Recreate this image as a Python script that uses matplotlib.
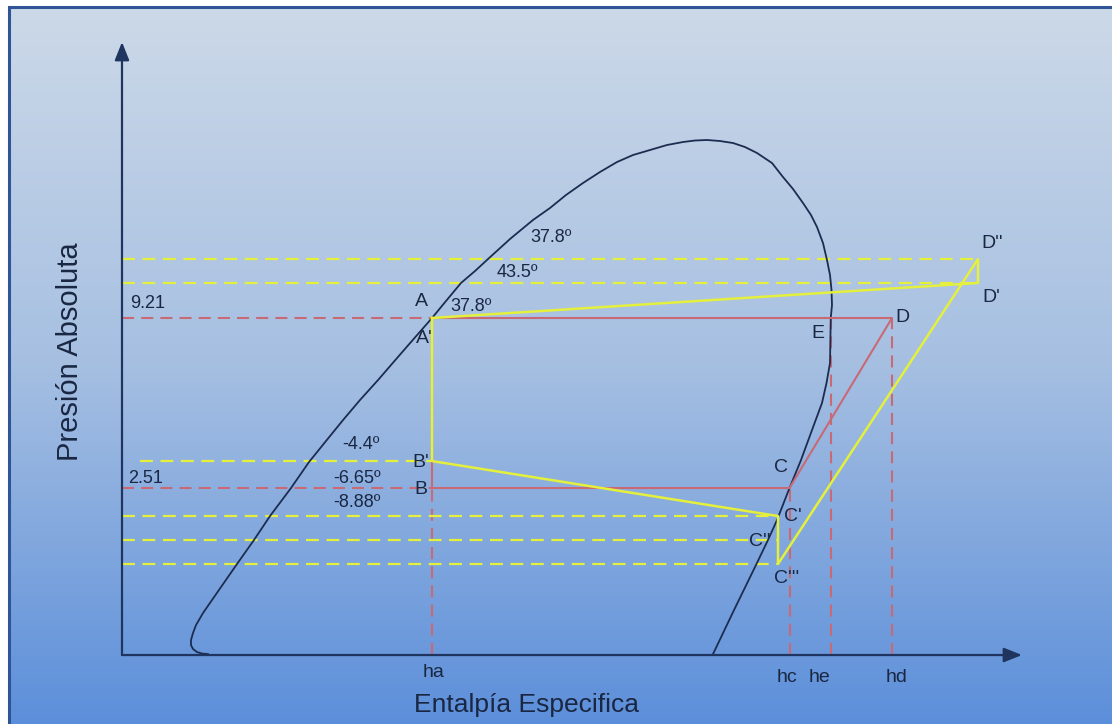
import numpy as np
import matplotlib
matplotlib.use('Agg')
import matplotlib.pyplot as plt
from matplotlib.patches import Rectangle

plt.rcParams['font.family'] = ['Liberation Sans', 'DejaVu Sans']

# saturation dome (h, P), liquid side up to the top and down the vapour side
dome_h = [162.4, 160.0, 158.0, 156.4, 155.6, 155.6, 156.4, 157.6, 160.4, 164.0,
          174.0, 180.8, 187.2, 195.6, 202.8, 209.6, 216.4, 223.2, 230.4, 235.6,
          240.8, 246.4, 252.0, 257.6, 263.6, 269.2, 274.4, 283.2, 292.4, 299.2,
          305.6, 312.4, 319.2, 326.0, 332.4, 339.2, 346.0, 352.4, 357.2, 362.0,
          367.2, 372.4, 377.2, 382.0, 388.0, 392.4, 396.4, 400.4, 403.6, 406.0,
          408.4, 410.0, 411.2, 411.8, 412.0, 411.5, 411.2, 409.8, 408.0, 404.0,
          399.6, 395.0, 390.0, 386.4, 381.2, 372.8, 364.4]
dome_p = [0.705, 0.708, 0.716, 0.733, 0.755, 0.785, 0.828, 0.880, 0.965, 1.066,
          1.404, 1.687, 2.026, 2.51, 3.062, 3.596, 4.22, 4.92, 5.73, 6.43,
          7.21, 8.15, 9.21, 10.49, 12.04, 13.19, 14.46, 16.85, 19.49, 21.36,
          23.59, 25.86, 28.13, 30.36, 32.03, 33.28, 34.58, 35.38, 35.79, 35.93,
          35.65, 35.11, 34.05, 32.53, 30.13, 27.07, 24.70, 22.19, 20.24, 18.47,
          16.34, 14.35, 12.80, 11.41, 10.17, 9.21, 6.53, 5.60, 4.81, 3.91,
          3.109, 2.51, 1.965, 1.687, 1.372, 0.987, 0.705]

# pressure levels
p_high = 9.21
p_low = 2.51
p_yellow = [14.46, 12.04, 3.085, 2.026, 1.687, 1.404]   # D'', D', B', C', C'', C'''

# enthalpies
ha, hc, he, hd = 252.0, 395.0, 411.5, 436.0
h_c1 = 390.4      # C', C'', C'''
h_d1 = 470.4      # D', D''

# ideal cycle A-B-C-D
red_h = [ha, ha, hc, hd, ha]
red_p = [p_high, p_low, p_low, p_high, p_high]

# real cycle A'-B'-C'-C'''-D''-D'-A'
yel_h = [ha, ha, h_c1, h_c1, h_d1, h_d1, ha]
yel_p = [p_high, p_yellow[2], p_yellow[3], p_yellow[5], p_yellow[0], p_yellow[1], p_high]

# axis origin and arrow tips
h0, p0 = 128.0, 0.700
h_tip, p_tip = 488.0, 76.0

# point labels: text, h, P
point_labels = [("A", 247.6, 10.49), ("A'", 248.8, 7.90), ("B'", 247.6, 3.04),
                ("B", 247.6, 2.49), ("C", 391.6, 2.93), ("C'", 396.4, 2.02),
                ("C''", 383.2, 1.673), ("C'''", 394.0, 1.261), ("E", 406.4, 8.21),
                ("D", 440.0, 9.28), ("D''", 476.0, 16.34), ("D'", 475.6, 10.81)]
temp_labels = [("37.8º", 267.6, 10.02), ("37.8º", 299.6, 17.11), ("43.5º", 286.0, 13.09),
               ("-4.4º", 223.6, 3.51), ("-6.65º", 222.0, 2.71), ("-8.88º", 222.0, 2.24)]
h_labels = [("ha", 252.8, 0.614), ("hc", 394.0, 0.591), ("he", 407.2, 0.591), ("hd", 438.0, 0.591)]

W, H = 1112, 724
fig = plt.figure(figsize=(W / 100, H / 100), dpi=100)
fig.patch.set_facecolor('white')

# gradient panel
x0, ytop = 9 / W, 1 - 7 / H
bg = fig.add_axes([x0, 0, 1 - x0, ytop])
bg.axis('off')
top = np.array([0.80, 0.85, 0.91])
mid = np.array([0.65, 0.75, 0.885])
bot = np.array([0.36, 0.56, 0.855])
t = np.linspace(0, 1, 256)[:, None]
grad = np.where(t < 0.5, top + (mid - top) * (t / 0.5), mid + (bot - mid) * ((t - 0.5) / 0.5))
bg.imshow(grad[:, None, :], aspect='auto', extent=[0, 1, 0, 1], origin='upper')
fig.patches.append(Rectangle((x0, -0.1), 1.2, ytop + 0.1, transform=fig.transFigure,
                             fill=False, ec='#2f5597', lw=2.2, zorder=5))

ax = fig.add_axes([0, 0, 1, 1])
ax.patch.set_alpha(0)
ax.set_yscale('log')
ax.set_xlim(79.2, 524.0)
ax.set_ylim(0.4131, 104.8)
ax.axis('off')

red = '#c86a76'
yellow = '#e4f03c'
navy = '#1c2c50'
txt = '#1a2742'

# dashed guides
dash = (5.8, 3.4)
ax.plot([h0, ha], [p_high, p_high], color=red, lw=1.5, dashes=dash, zorder=2)
ax.plot([h0, ha], [p_low, p_low], color=red, lw=1.5, dashes=dash, zorder=2)
for h, p in [(ha, p_low), (hc, p_low), (he, p_high), (hd, p_high)]:
    ax.plot([h, h], [p0, p], color=red, lw=1.5, dashes=dash, zorder=2)
for p, hend in zip(p_yellow, [h_d1, h_d1, ha, h_c1, h_c1, h_c1]):
    hstart = 135.2 if p == p_yellow[2] else h0
    ax.plot([hstart, hend], [p, p], color=yellow, lw=1.6, dashes=dash, zorder=2)

ax.plot(dome_h, dome_p, color=navy, lw=1.3, zorder=3, solid_joinstyle='round')
ax.plot(red_h, red_p, color=red, lw=1.5, zorder=4)
ax.plot(yel_h, yel_p, color=yellow, lw=1.8, zorder=5)

arrow = dict(arrowstyle='-|>,head_length=0.55,head_width=0.22', color='#1f3560',
             lw=1.6, shrinkA=0, shrinkB=0, mutation_scale=20)
ax.annotate('', xy=(h_tip, p0), xytext=(h0, p0), arrowprops=arrow, zorder=6)
ax.annotate('', xy=(h0, p_tip), xytext=(h0, p0), arrowprops=arrow, zorder=6)

for s, h, p in point_labels + h_labels:
    ax.text(h, p, s, ha='center', va='center', fontsize=14, color=txt, zorder=7)
for s, h, p in temp_labels:
    ax.text(h, p, s, ha='center', va='center', fontsize=13, color=txt, zorder=7)
ax.text(131.2, 10.33, '9.21', ha='left', va='center', fontsize=13, color=txt)
ax.text(130.4, 2.69, '2.51', ha='left', va='center', fontsize=13, color=txt)

ax.text(290.0, 0.478, 'Entalpía Especifica', ha='center', va='center', fontsize=19, color=txt)
ax.text(107.2, 7.10, 'Presión Absoluta', ha='center', va='center', rotation=90,
        fontsize=21, color=txt)

fig.savefig('out.png', dpi=100)
